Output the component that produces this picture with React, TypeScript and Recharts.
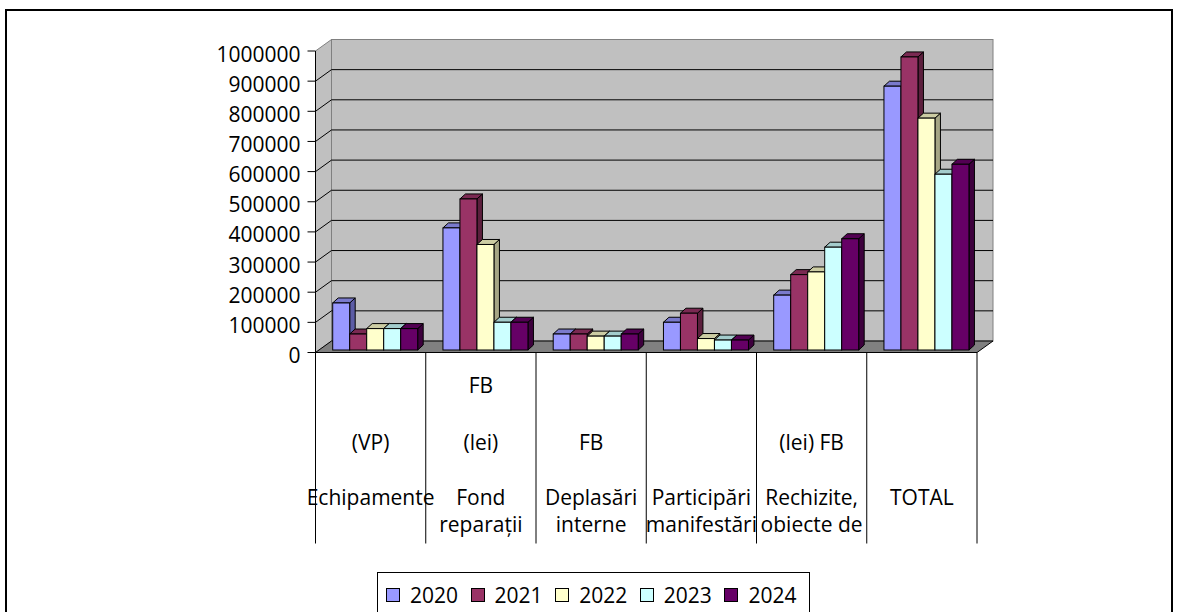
import React from 'react';
import { BarChart, Bar, XAxis, YAxis, CartesianGrid } from 'recharts';

// ---------- data ----------
const categories = [
  'Echipamente (VP)',
  'Fond reparații FB (lei)',
  'Deplasări interne FB',
  'Participări manifestări',
  'Rechizite, obiecte de (lei) FB',
  'TOTAL',
];
// label rows as they are laid out under each category (row 1..4)
const categoryLines = [
  ['', '(VP)', 'Echipamente', ''],
  ['FB', '(lei)', 'Fond', 'reparații'],
  ['', 'FB', 'Deplasări', 'interne'],
  ['', '', 'Participări', 'manifestări'],
  ['', '(lei) FB', 'Rechizite,', 'obiecte de'],
  ['', '', 'TOTAL', ''],
];
const seriesNames = ['2020', '2021', '2022', '2023', '2024'];
const values2020 = [156000, 405000, 53000, 92000, 182000, 875000];
const values2021 = [53000, 501000, 53000, 122000, 250000, 972000];
const values2022 = [71000, 350000, 46000, 38000, 259000, 769000];
const values2023 = [71000, 92000, 46000, 33000, 341000, 583000];
const values2024 = [71000, 92000, 53000, 33000, 369000, 616000];
const yTicks = [0, 100000, 200000, 300000, 400000, 500000, 600000, 700000, 800000, 900000, 1000000];

const seriesValues = [values2020, values2021, values2022, values2023, values2024];
const data = categories.map((name, i) => {
  const row: any = { name, lines: categoryLines[i] };
  seriesNames.forEach((s, k) => {
    row[s] = seriesValues[k][i];
  });
  return row;
});

// ---------- style ----------
const FONT = '"Open Sans", "Noto Sans", sans-serif';
const frontColors = ['#9999FF', '#993366', '#FFFFCC', '#CCFFFF', '#660066'];
const sideColors = ['#5C5CA6', '#5C1F3D', '#A6A685', '#85A6A6', '#3D003D'];
const topColors = ['#7A7ACC', '#7A2952', '#CCCCA3', '#A3CCCC', '#520052'];

const WALL_DX = 16;
const WALL_DY = -11.5;
const BAR_DX = 5.5;
const BAR_DY = -5;
const BAR_SHIFT_X = 5;
const BAR_SHIFT_Y = -2.5;

const make3DBar = (k: number) => (props: any) => {
  const { x, y, width, height } = props;
  if (width == null || height == null) return <g />;
  const X = x + BAR_SHIFT_X;
  const Y = y + BAR_SHIFT_Y;
  const w = width;
  const h = height;
  return (
    <g>
      <polygon
        points={`${X + w},${Y} ${X + w + BAR_DX},${Y + BAR_DY} ${X + w + BAR_DX},${Y + h + BAR_DY} ${X + w},${Y + h}`}
        fill={sideColors[k]}
        stroke="#000"
        strokeWidth={1}
      />
      <polygon
        points={`${X},${Y} ${X + BAR_DX},${Y + BAR_DY} ${X + w + BAR_DX},${Y + BAR_DY} ${X + w},${Y}`}
        fill={topColors[k]}
        stroke="#000"
        strokeWidth={1}
      />
      <rect x={X} y={Y} width={w} height={h} fill={frontColors[k]} stroke="#000" strokeWidth={1} />
    </g>
  );
};

// grid lines drawn on the back wall (and the walls/floor themselves with the first line)
const renderGridLine = (props: any) => {
  const { x1, y1, x2, index, y, height } = props;
  const elems: any[] = [];
  if (index === 0 && y != null && height != null) {
    const top = y;
    const bot = y + height;
    // side wall
    elems.push(
      <polygon
        key="side"
        points={`${x1},${top} ${x1 + WALL_DX},${top + WALL_DY} ${x1 + WALL_DX},${bot + WALL_DY} ${x1},${bot}`}
        fill="#C0C0C0"
        stroke="#808080"
        strokeWidth={1}
      />
    );
    // back wall
    elems.push(
      <rect
        key="back"
        x={x1 + WALL_DX}
        y={top + WALL_DY}
        width={x2 - x1}
        height={height}
        fill="#C0C0C0"
        stroke="#808080"
        strokeWidth={1}
      />
    );
    // floor
    elems.push(
      <polygon
        key="floor"
        points={`${x1},${bot} ${x2},${bot} ${x2 + WALL_DX},${bot + WALL_DY} ${x1 + WALL_DX},${bot + WALL_DY}`}
        fill="#808080"
        stroke="#000"
        strokeWidth={1}
      />
    );
  }
  const isEdge = y != null && height != null && (Math.abs(y1 - y) < 0.5 || Math.abs(y1 - (y + height)) < 0.5);
  if (!isEdge) {
    elems.push(
      <line key="l" x1={x1 + WALL_DX} y1={y1 + WALL_DY} x2={x2 + WALL_DX} y2={y1 + WALL_DY} stroke="#000" strokeWidth={1} />
    );
    elems.push(
      <line key="d" x1={x1} y1={y1} x2={x1 + WALL_DX} y2={y1 + WALL_DY} stroke="#000" strokeWidth={1} />
    );
  }
  return <g key={`grid-${index}`}>{elems}</g>;
};

const ROW_DY = [40.5, 97.5, 152.5, 179.5];

const XTick = (props: any) => {
  const { x, y, payload, index } = props;
  const half = payload && payload.offset != null ? payload.offset : 55.2;
  const lines: string[] = data[index] ? data[index].lines : [];
  return (
    <g>
      <line x1={x - half} y1={y} x2={x - half} y2={y + 191} stroke="#000" strokeWidth={1} />
      {index === categories.length - 1 && (
        <line x1={x + half} y1={y} x2={x + half} y2={y + 191} stroke="#000" strokeWidth={1} />
      )}
      {lines.map((t, r) =>
        t ? (
          <text
            key={r}
            x={x}
            y={y + ROW_DY[r]}
            textAnchor="middle"
            fontFamily={FONT}
            fontSize={21}
            fill="#000"
          >
            {t}
          </text>
        ) : null
      )}
    </g>
  );
};

const YTick = (props: any) => {
  const { x, y, payload } = props;
  return (
    <text x={x} y={y} dy={10.5} textAnchor="end" fontFamily={FONT} fontSize={21} fill="#000">
      {payload.value}
    </text>
  );
};

const PLOT_LEFT = 315.5;
const PLOT_RIGHT = 977;
const PLOT_TOP = 51;
const PLOT_BOTTOM = 352.5;
const Y_AXIS_W = 110;
const X_AXIS_H = 200;

export default function App() {
  return (
    <div style={{ position: 'absolute', left: 0, top: 0, width: 1178, height: 612, overflow: 'hidden', background: '#fff' }}>
      <div
        style={{
          position: 'absolute',
          left: 5,
          top: 9,
          width: 1168,
          height: 640,
          border: '2px solid #000',
          boxSizing: 'border-box',
        }}
      />
      <div style={{ position: 'absolute', left: 0, top: 0 }}>
        <BarChart
          width={1178}
          height={612}
          data={data}
          barCategoryGap={12.2}
          barGap={0}
          margin={{
            top: PLOT_TOP,
            right: 1178 - PLOT_RIGHT,
            left: PLOT_LEFT - Y_AXIS_W,
            bottom: 612 - PLOT_BOTTOM - X_AXIS_H,
          }}
        >
          <CartesianGrid vertical={false} horizontal={renderGridLine} />
          <XAxis
            dataKey="name"
            interval={0}
            height={X_AXIS_H}
            tickLine={false}
            tickSize={0}
            tickMargin={0}
            axisLine={{ stroke: '#000', strokeWidth: 1 }}
            tick={<XTick />}
          />
          <YAxis
            width={Y_AXIS_W}
            domain={[0, 1000000]}
            ticks={yTicks}
            interval={0}
            tickSize={8}
            tickMargin={7}
            tickLine={{ stroke: '#000' }}
            axisLine={{ stroke: '#000', strokeWidth: 1 }}
            tick={<YTick />}
          />
          {seriesNames.map((s, k) => (
            <Bar key={s} dataKey={s} fill={frontColors[k]} shape={make3DBar(k)} isAnimationActive={false} />
          ))}
        </BarChart>
      </div>
      <div
        style={{
          position: 'absolute',
          left: 377,
          top: 572,
          width: 433,
          height: 60,
          border: '1px solid #000',
          boxSizing: 'border-box',
          display: 'flex',
          alignItems: 'flex-start',
          paddingLeft: 8,
          paddingTop: 13,
          fontFamily: FONT,
          fontSize: 21,
          color: '#000',
        }}
      >
        {seriesNames.map((s, k) => (
          <div key={s} style={{ display: 'flex', alignItems: 'center', width: 87, height: 18 }}>
            <div
              style={{
                width: 14,
                height: 14,
                background: frontColors[k],
                border: '1px solid #000',
                boxSizing: 'border-box',
                marginRight: 10,
              }}
            />
            <span style={{ lineHeight: '18px' }}>{s}</span>
          </div>
        ))}
      </div>
    </div>
  );
}
